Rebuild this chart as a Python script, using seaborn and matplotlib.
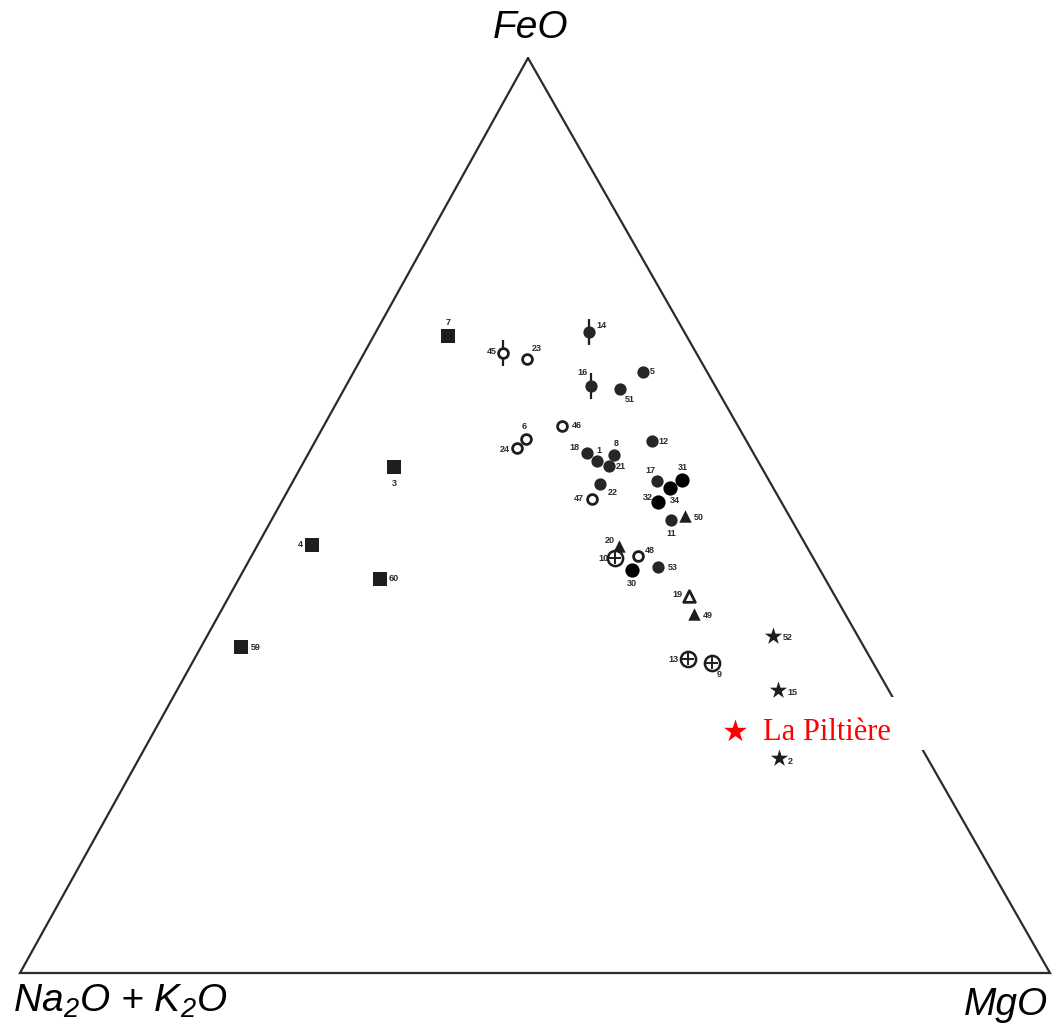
import matplotlib
matplotlib.use("Agg")
import matplotlib.pyplot as plt
from matplotlib.patches import Rectangle
import seaborn as sns
import pandas as pd
import numpy as np

# ---------------- data (ternary %, FeO / Na2O+K2O / MgO) ----------------
samples = ["7", "3", "4", "60", "59",
           "45", "23", "6", "24", "46", "47", "48",
           "14", "16", "5", "51", "12", "18", "1", "8", "21", "22", "17", "11", "53",
           "31", "34", "32", "30",
           "50", "20", "49",
           "19",
           "10", "13", "9",
           "52", "15", "2"]
feo = [69.6, 55.3, 46.8, 43.1, 35.6,
       67.8, 67.1, 58.4, 57.4, 59.8, 51.8, 45.6,
       70.1, 64.2, 65.7, 63.8, 58.1, 56.8, 56.0, 56.6, 55.4, 53.4, 53.8, 49.5, 44.4,
       53.9, 53.0, 51.5, 44.0,
       49.9, 46.7, 39.2,
       41.2,
       45.4, 34.3, 33.9,
       36.8, 30.9, 23.5]
mgo = [7.2, 9.0, 5.3, 13.7, 3.9,
       13.5, 16.1, 20.3, 19.9, 23.1, 30.0, 37.5,
       20.7, 23.8, 28.1, 26.8, 32.7, 27.0, 28.4, 29.8, 29.9, 30.0, 35.3, 38.8, 40.0,
       37.7, 37.0, 36.5, 37.7,
       40.0, 35.1, 46.1,
       44.6,
       35.4, 47.9, 50.5,
       55.0, 58.4, 62.1]
groups = (["square"] * 5 + ["open circle"] * 7 + ["filled circle"] * 13 +
          ["black circle"] * 4 + ["filled triangle"] * 3 + ["open triangle"] +
          ["wheel"] * 3 + ["star"] * 3)
ticked = ["14", "16", "45"]          # samples drawn with a vertical bar

piltiere_name = "La Piltière"
piltiere_feo, piltiere_mgo = 26.4, 56.4

vertex_labels = ["FeO", "Na$_{2}$O + K$_{2}$O", "MgO"]

# ---------------- layout ----------------
W, H = 1056, 1028
V_FEO = (528, 58)
V_ALK = (20, 973)
V_MGO = (1050, 973)


def tern_to_xy(f, m):
    f = np.asarray(f, float) / 100.0
    m = np.asarray(m, float) / 100.0
    a = 1.0 - f - m
    x = f * V_FEO[0] + a * V_ALK[0] + m * V_MGO[0]
    y = f * V_FEO[1] + a * V_ALK[1] + m * V_MGO[1]
    return x, y


df = pd.DataFrame({"sample": samples, "FeO": feo, "MgO": mgo, "group": groups})
df["Alk"] = 100 - df["FeO"] - df["MgO"]
df["x"], df["y"] = tern_to_xy(df["FeO"], df["MgO"])

# label offsets in image pixels (dx right, dy down)
offsets = {
    "7": (0, -14), "3": (1, 16), "4": (-12, 0), "60": (14, 0), "59": (15, 0),
    "45": (-12, -1), "23": (10, -11), "6": (-2, -12), "24": (-12, 2), "46": (15, 0),
    "47": (-13, -1), "48": (12, -5),
    "14": (12, -6), "16": (-9, -13), "5": (9, 0), "51": (10, 10), "12": (12, 0),
    "18": (-12, -6), "1": (2, -10), "8": (2, -12), "21": (11, 0), "22": (12, 8),
    "17": (-6, -10), "11": (0, 13), "53": (15, 1),
    "31": (1, -12), "34": (5, 12), "32": (-10, -4), "30": (0, 13),
    "50": (13, 1), "20": (-9, -5), "49": (14, 1), "19": (-11, -2),
    "10": (-12, 1), "13": (-14, 0), "9": (7, 12),
    "52": (14, 1), "15": (14, 2), "2": (11, 4),
}

sns.set_theme(style="white")
plt.rcParams["font.family"] = ["Liberation Sans", "DejaVu Sans"]
plt.rcParams["mathtext.fontset"] = "custom"
plt.rcParams["mathtext.rm"] = "Liberation Sans:italic"
plt.rcParams["mathtext.it"] = "Liberation Sans:italic"

fig = plt.figure(figsize=(W / 100, H / 100), dpi=100)
ax = fig.add_axes([0, 0, 1, 1])
ax.set_xlim(0, W)
ax.set_ylim(H, 0)
ax.axis("off")

# triangle
tx = [V_FEO[0], V_MGO[0], V_ALK[0], V_FEO[0]]
ty = [V_FEO[1], V_MGO[1], V_ALK[1], V_FEO[1]]
ax.plot(tx, ty, color="#2b2b2b", lw=1.6, solid_joinstyle="miter", zorder=1)

ink = "#1e1e1e"
styles = {
    "square": dict(marker="s", s=90, color=ink, edgecolor=ink, linewidth=0),
    "open circle": dict(marker="o", s=50, color="white", edgecolor=ink, linewidth=2.0),
    "filled circle": dict(marker="o", s=78, color="#262626", edgecolor="#262626", linewidth=0),
    "black circle": dict(marker="o", s=105, color="black", edgecolor="black", linewidth=0),
    "filled triangle": dict(marker="^", s=80, color=ink, edgecolor=ink, linewidth=0),
    "open triangle": dict(marker="^", s=70, color="white", edgecolor=ink, linewidth=2.0),
    "wheel": dict(marker="o", s=120, color="white", edgecolor=ink, linewidth=1.8),
    "star": dict(marker="*", s=170, color=ink, edgecolor=ink, linewidth=0),
}

# vertical bars behind some markers
sub = df[df["sample"].isin(ticked)]
sns.scatterplot(data=sub, x="x", y="y", marker="|", s=330, color=ink,
                linewidth=1.6, ax=ax, legend=False, zorder=2)

for g, st in styles.items():
    sub = df[df["group"] == g]
    sns.scatterplot(data=sub, x="x", y="y", ax=ax, legend=False, zorder=3, **st)
    if g == "wheel":
        sns.scatterplot(data=sub, x="x", y="y", ax=ax, legend=False, zorder=4,
                        marker="+", s=75, color=ink, linewidth=1.4)

for _, r in df.iterrows():
    dx, dy = offsets[r["sample"]]
    ax.annotate(r["sample"], (r["x"], r["y"]), xytext=(dx, -dy),
                textcoords="offset pixels", ha="center", va="center",
                fontsize=6.5, fontweight="bold", color="#2a2a2a", zorder=5)

# La Piltière
px, py = tern_to_xy(piltiere_feo, piltiere_mgo)
ax.add_patch(Rectangle((748, 697), 182, 53, facecolor="white", edgecolor="none", zorder=2))
sns.scatterplot(x=[float(px)], y=[float(py)], marker="*", s=300, color="red",
                linewidth=0, ax=ax, legend=False, zorder=6)
ax.text(float(px) + 28, float(py) + 1, piltiere_name, color="red",
        fontsize=22, family=["Liberation Serif", "DejaVu Serif"],
        ha="left", va="center", zorder=6)

# vertex labels
ax.text(531, 38, vertex_labels[0], fontsize=28, style="italic", ha="center",
        va="baseline", color="black")
ax.text(13, 1012, vertex_labels[1], fontsize=28, style="italic", ha="left",
        va="baseline", color="black")
ax.text(1048, 1015, vertex_labels[2], fontsize=28, style="italic", ha="right",
        va="baseline", color="black")

fig.savefig("out.png", dpi=100, facecolor="white")
